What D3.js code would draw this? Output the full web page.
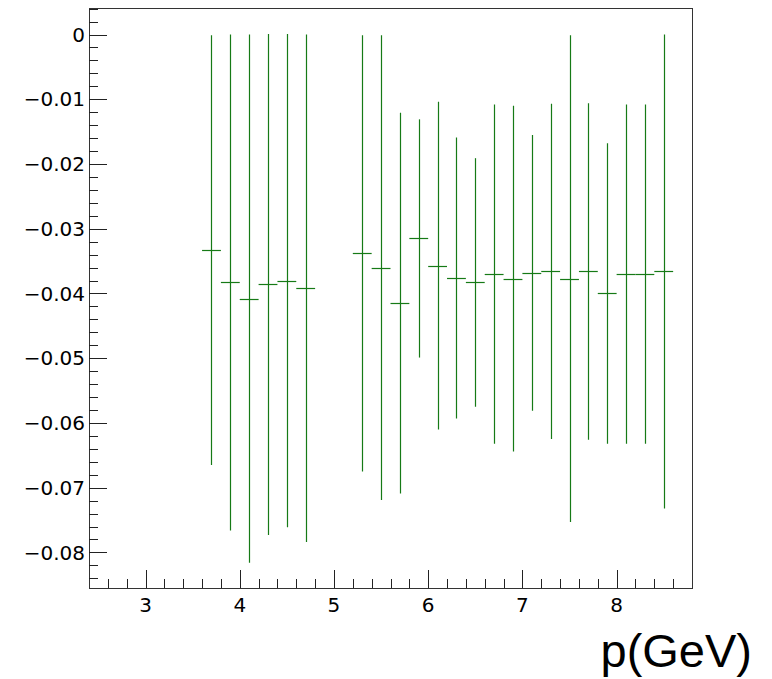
<!DOCTYPE html>
<html>
<head>
<meta charset="utf-8">
<script src="https://cdn.jsdelivr.net/npm/d3@7"></script>
<style>
  html, body { margin: 0; padding: 0; background: #fff; }
  svg { display: block; }
  text { fill: #000; }
</style>
</head>
<body>
<script>
// ---- data ----
const xCenters = [3.7, 3.9, 4.1, 4.3, 4.5, 4.7, 5.3, 5.5, 5.7, 5.9, 6.1, 6.3, 6.5, 6.7, 6.9, 7.1, 7.3, 7.5, 7.7, 7.9, 8.1, 8.3, 8.5];
const yValues = [-0.0333, -0.0383, -0.0408, -0.0386, -0.0380, -0.0392,
                 -0.0338, -0.0360, -0.0415, -0.0315, -0.0357, -0.0376, -0.0383, -0.0370, -0.0377,
                 -0.0368, -0.0366, -0.0377, -0.0366, -0.0400, -0.0370, -0.0370, -0.0366];
const yErrors = [0.0332, 0.0383, 0.0408, 0.0387, 0.0381, 0.0392,
                 0.0337, 0.0359, 0.0294, 0.0184, 0.0253, 0.0217, 0.0192, 0.0262, 0.0267,
                 0.0213, 0.0259, 0.0376, 0.0260, 0.0232, 0.0262, 0.0262, 0.0366];
const xHalfWidth = 0.1;
const xTickLabels = [3, 4, 5, 6, 7, 8];
const yTickLabels = [0, -0.01, -0.02, -0.03, -0.04, -0.05, -0.06, -0.07, -0.08];
const xAxisTitle = "p(GeV)";

// ---- layout ----
const W = 772, H = 679;
const mLeft = 89, mRight = 692, mTop = 8, mBottom = 588;
const lineColor = "#167a16";
const tickFont = '"DejaVu Sans", "Liberation Sans", sans-serif';
const titleFont = '"Liberation Sans", Arial, Helvetica, sans-serif';

const svg = d3.select("body").append("svg").attr("width", W).attr("height", H);

const x = d3.scaleLinear().domain([2.4, 8.8]).range([mLeft, mRight]);
const y = d3.scaleLinear().domain([-0.0855, 0.0041]).range([mBottom, mTop]);

// frame
svg.append("rect")
  .attr("x", mLeft + 0.5).attr("y", mTop + 0.5)
  .attr("width", mRight - mLeft).attr("height", mBottom - mTop)
  .attr("fill", "none").attr("stroke", "#333").attr("stroke-width", 1)
  .attr("shape-rendering", "crispEdges");

// x axis
const xMinor = d3.range(13, 44).map(i => +(i * 0.2).toFixed(1)).filter(v => xTickLabels.indexOf(v) < 0);
const xAxisMajor = d3.axisTop(x).tickValues(xTickLabels).tickSize(18).tickFormat("");
const xAxisMinor = d3.axisTop(x).tickValues(xMinor).tickSize(9).tickFormat("");
[xAxisMajor, xAxisMinor].forEach(ax => {
  const g = svg.append("g").attr("transform", `translate(0,${mBottom})`).call(ax);
  g.select(".domain").remove();
  g.selectAll("line").attr("stroke", "#222").attr("shape-rendering", "crispEdges");
});
svg.append("g").selectAll("text").data(xTickLabels).join("text")
  .attr("x", d => x(d)).attr("y", 612)
  .attr("text-anchor", "middle").attr("font-size", 20)
  .attr("font-family", tickFont)
  .text(d => d);

// y axis
const yMinor = d3.range(-42, 3).map(i => +(i * 0.002).toFixed(3))
  .filter(v => v >= -0.0855 && v <= 0.0041 && Math.abs(Math.round(v * 100) - v * 100) > 1e-6);
const yAxisMajor = d3.axisRight(y).tickValues(yTickLabels).tickSize(18).tickFormat("");
const yAxisMinor = d3.axisRight(y).tickValues(yMinor).tickSize(9).tickFormat("");
[yAxisMajor, yAxisMinor].forEach(ax => {
  const g = svg.append("g").attr("transform", `translate(${mLeft},0)`).call(ax);
  g.select(".domain").remove();
  g.selectAll("line").attr("stroke", "#222").attr("shape-rendering", "crispEdges");
});
const fmt = d3.format(".2~f");
svg.append("g").selectAll("text").data(yTickLabels).join("text")
  .attr("x", 85).attr("y", d => y(d))
  .attr("dy", "0.36em")
  .attr("text-anchor", "end").attr("font-size", 20)
  .attr("font-family", tickFont)
  .text(d => d === 0 ? "0" : fmt(d));

// axis title
svg.append("text")
  .attr("x", 752).attr("y", 667)
  .attr("text-anchor", "end").attr("font-size", 47)
  .attr("font-family", titleFont)
  .text(xAxisTitle);

// data: error bars
const pts = xCenters.map((xc, i) => ({ x: xc, v: yValues[i], e: yErrors[i] }));
const g = svg.append("g").attr("stroke", lineColor).attr("stroke-width", 1.2);
g.selectAll("line.v").data(pts).join("line").attr("class", "v")
  .attr("x1", d => Math.round(x(d.x)) + 0.5).attr("x2", d => Math.round(x(d.x)) + 0.5)
  .attr("y1", d => y(d.v + d.e)).attr("y2", d => y(d.v - d.e));
g.selectAll("line.h").data(pts).join("line").attr("class", "h")
  .attr("x1", d => x(d.x - xHalfWidth)).attr("x2", d => x(d.x + xHalfWidth))
  .attr("y1", d => Math.round(y(d.v)) + 0.5).attr("y2", d => Math.round(y(d.v)) + 0.5);
</script>
</body>
</html>
